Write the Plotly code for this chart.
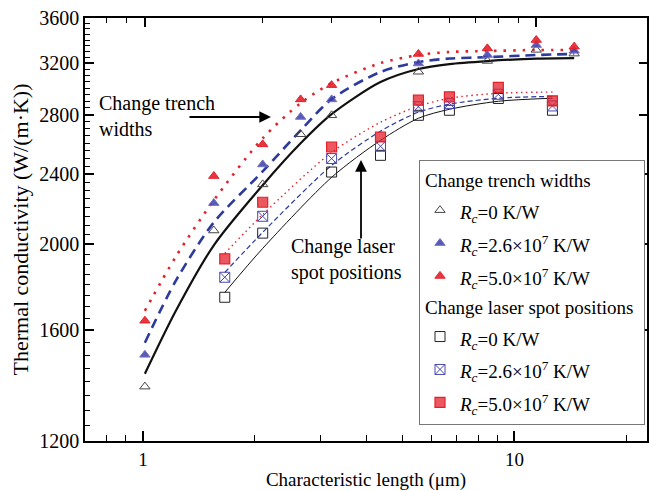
import plotly.graph_objects as go

# ---------------- data ----------------
trench_x = [1, 1.5, 2, 2.5, 3, 5, 7.5, 10, 12.5]
trench_rc0 = [1382, 2073, 2337, 2662, 2796, 3131, 3220, 3314, 3282]
trench_rc26 = [1501, 2226, 2461, 2784, 2914, 3199, 3270, 3356, 3306]
trench_rc50 = [1640, 2388, 2593, 2914, 3024, 3279, 3327, 3400, 3342]

laser_x = [1.6, 2, 3, 4, 5, 6, 8, 11]
laser_rc0 = [1743, 2059, 2413, 2520, 2796, 2833, 2921, 2833]
laser_rc26 = [1836, 2151, 2499, 2580, 2859, 2884, 2953, 2865]
laser_rc50 = [1926, 2231, 2575, 2643, 2908, 2933, 3006, 2903]

trench_fit_x = [1, 1.2, 1.5, 2, 2.5, 3, 4, 5, 6, 7.5, 10, 12.5]
trench_fit_rc0 = [1429, 1683, 1995, 2332, 2600, 2804, 3048, 3153, 3194, 3219, 3240, 3244]
trench_fit_rc26 = [1549, 1820, 2117, 2417, 2689, 2916, 3129, 3211, 3240, 3252, 3270, 3279]
trench_fit_rc50 = [1683, 1937, 2242, 2634, 2886, 3040, 3202, 3270, 3296, 3304, 3313, 3313]

laser_fit_x = [1.6, 2, 3, 4, 5, 6, 8, 11]
laser_fit_rc0 = [1765, 1979, 2380, 2620, 2775, 2840, 2900, 2923]
laser_fit_rc26 = [1859, 2063, 2455, 2683, 2819, 2878, 2923, 2937]
laser_fit_rc50 = [1953, 2161, 2539, 2746, 2863, 2923, 2961, 2970]

y_ticks = [1200, 1600, 2000, 2400, 2800, 3200, 3600]
y_minor = [v for v in range(1250, 3600, 50) if v % 400 != 0]
x_ticks = [1, 10]
x_minor = [0.8, 0.9, 2, 3, 4, 5, 6, 7, 8, 9, 20]

labels = [
    "<i>R</i><sub><i>c</i></sub>=0 K/W",
    "<i>R</i><sub><i>c</i></sub>=2.6×10<sup>7</sup> K/W",
    "<i>R</i><sub><i>c</i></sub>=5.0×10<sup>7</sup> K/W",
]

FONT = "Liberation Serif, Times New Roman, serif"
BLACK = "#111111"
BLUE = "#2b3a9c"
RED = "#e4202a"

fig = go.Figure()

# ---------------- fitted curves ----------------
fits = [
    (trench_fit_x, trench_fit_rc0, BLACK, "solid", 2.2),
    (trench_fit_x, trench_fit_rc26, BLUE, "10px,6px", 2.6),
    (trench_fit_x, trench_fit_rc50, RED, "2.5px,7px", 2.6),
    (laser_fit_x, laser_fit_rc0, BLACK, "solid", 1.0),
    (laser_fit_x, laser_fit_rc26, BLUE, "5px,3px", 1.2),
    (laser_fit_x, laser_fit_rc50, RED, "1.5px,3.5px", 1.4),
]
for fx, fy, c, d, w in fits:
    fig.add_trace(go.Scatter(x=fx, y=fy, mode="lines", showlegend=False,
                             line=dict(color=c, dash=d, width=w, shape="spline", smoothing=0.8),
                             hoverinfo="skip"))

# ---------------- markers ----------------
def lg(t):
    return '<span style="font-size:19px">' + t + "</span>"


trench_styles = [
    (trench_rc0, dict(symbol="triangle-up-open", color="#444444", size=9, line=dict(width=1, color="#444444"))),
    (trench_rc26, dict(symbol="triangle-up", color="rgba(60,60,170,0.85)", size=9, line=dict(width=1, color="#7070c0"))),
    (trench_rc50, dict(symbol="triangle-up", color="rgba(228,32,42,0.9)", size=9, line=dict(width=1, color=RED))),
]
for i, (vals, mk) in enumerate(trench_styles):
    fig.add_trace(go.Scatter(x=trench_x, y=vals, mode="markers", name=lg(labels[i]), marker=mk,
                             legendgroup="trench",
                             legendgrouptitle=dict(text="Change trench widths", font=dict(family=FONT, size=19, color="black"))))

laser_styles = [
    (laser_rc0, dict(symbol="square-open", color="#222222", size=10, line=dict(width=1, color="#222222"))),
    (laser_rc26, dict(symbol="square-x-open", color="#4848b0", size=10, line=dict(width=1, color="#4848b0"))),
    (laser_rc50, dict(symbol="square", color="rgba(228,32,42,0.75)", size=10, line=dict(width=1.2, color=RED))),
]
for i, (vals, mk) in enumerate(laser_styles):
    fig.add_trace(go.Scatter(x=laser_x, y=vals, mode="markers", name=lg(labels[i]), marker=mk,
                             legendgroup="laser",
                             legendgrouptitle=dict(text="Change laser spot positions", font=dict(family=FONT, size=19, color="black"))))

# empty trace registering the overlay (bottom / right) axes
fig.add_trace(go.Scatter(x=[], y=[], xaxis="x2", yaxis="y2", showlegend=False, hoverinfo="skip"))

# ---------------- layout ----------------
L, R, T, B = 85, 2, 18, 50
W, H = 649, 491
pw, ph = W - L - R, H - T - B


def px(xp):
    return (xp - L) / pw


def py(yp):
    return (H - B - yp) / ph


axis_common = dict(showline=True, linecolor="black", linewidth=1.5, showgrid=False, zeroline=False,
                   ticks="inside", tickcolor="black")

fig.update_layout(
    width=W, height=H,
    margin=dict(l=L, r=R, t=T, b=B),
    paper_bgcolor="white", plot_bgcolor="white",
    font=dict(family=FONT, size=19, color="black"),
    xaxis=dict(type="log", range=[-0.153, 1.283], side="top", showticklabels=False,
               tickvals=x_ticks, ticklen=9, tickwidth=1.5,
               minor=dict(tickmode="array", tickvals=x_minor, ticks="inside", ticklen=5, tickwidth=1.2, tickcolor="black"),
               **axis_common),
    xaxis2=dict(type="log", range=[-0.156, 1.357], overlaying="x", side="bottom", anchor="y2",
                tickvals=x_ticks, ticktext=["1", "10"], ticklen=10, tickwidth=1.5,
                tickfont=dict(family=FONT, size=19),
                minor=dict(tickmode="array", tickvals=x_minor, ticks="inside", ticklen=6, tickwidth=1.2, tickcolor="black"),
                title=dict(text="Characteristic length (μm)", font=dict(family=FONT, size=19), standoff=5),
                **axis_common),
    yaxis=dict(type="log", range=[3.0791812, 3.5563025], tickvals=y_ticks,
               ticktext=[str(v) for v in y_ticks], ticklen=9, tickwidth=1.5,
               tickfont=dict(family=FONT, size=20),
               minor=dict(tickmode="array", tickvals=y_minor, ticks="inside", ticklen=5, tickwidth=1.2, tickcolor="black"),
               title=dict(text="Thermal conductivity (W/(m·K))", font=dict(family=FONT, size=22), standoff=5),
               **axis_common),
    yaxis2=dict(type="log", range=[3.0791812, 3.5563025], overlaying="y", side="right", anchor="x2",
                tickvals=y_ticks, showticklabels=False, ticklen=8, tickwidth=1.5,
                **axis_common),
    legend=dict(x=px(419), y=py(160), xanchor="left", yanchor="top",
                bordercolor="#777777", borderwidth=1, bgcolor="white",
                font=dict(family=FONT, size=23), tracegroupgap=0, itemwidth=30,
                traceorder="grouped"),
    showlegend=True,
)

# ---------------- annotations ----------------
fig.add_annotation(xref="paper", yref="paper", x=px(97), y=py(116), xanchor="left", yanchor="middle",
                   text="Change trench<br>widths", align="left", showarrow=False,
                   font=dict(family=FONT, size=20))
fig.add_annotation(xref="paper", yref="paper", x=px(289), y=py(259), xanchor="left", yanchor="middle",
                   text="Change laser<br>spot positions", align="left", showarrow=False,
                   font=dict(family=FONT, size=20))
fig.add_annotation(xref="paper", yref="paper", x=px(271), y=py(117), ax=-83, ay=0, text="",
                   showarrow=True, arrowhead=2, arrowsize=1.3, arrowwidth=1.8, arrowcolor="black")
fig.add_annotation(xref="paper", yref="paper", x=px(361), y=py(160), ax=0, ay=80, text="",
                   showarrow=True, arrowhead=2, arrowsize=1.3, arrowwidth=1.8, arrowcolor="black")

fig.write_html("out.html")
